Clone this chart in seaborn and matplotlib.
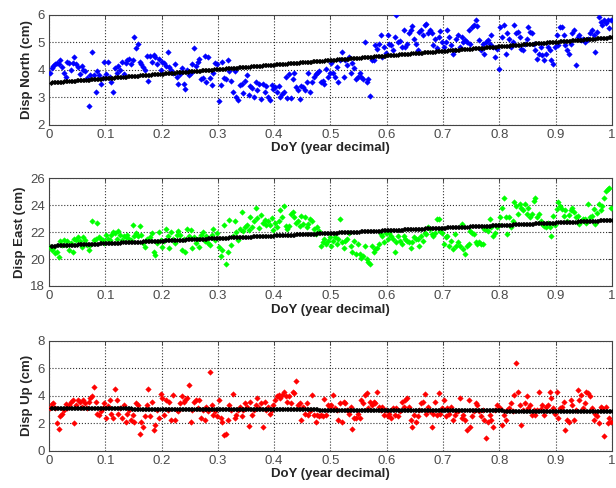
import numpy as np
import pandas as pd
import matplotlib
matplotlib.use("Agg")
import matplotlib.pyplot as plt
import seaborn as sns

# Daily displacement readings (cm), in day order through the year
disp_north = [
    3.9, 4.05, 4.15, 4.2, 4.25, 4.2, 4.35, 4.1,
    3.9, 3.75, 4.3, 4.25, 4.0, 4.25, 4.45, 4.2,
    4.1, 3.85, 4.15, 4.0, 3.95, 3.7, 2.7, 3.8,
    4.65, 3.8, 3.2, 3.95, 3.8, 3.5, 3.7, 4.3,
    3.85, 4.3, 3.75, 3.55, 3.2, 4.05, 3.9, 4.15,
    4.0, 4.3, 3.85, 4.25, 4.35, 4.4, 4.2, 4.35,
    5.2, 4.8, 4.95, 4.3, 4.2, 4.1, 4.0, 4.5,
    3.6, 4.5, 4.3, 4.55, 4.45, 4.2, 4.4, 4.0,
    4.3, 4.25, 4.15, 4.65, 4.1, 4.0, 3.9, 4.2,
    3.75, 3.5, 3.85, 4.05, 3.5, 3.3, 4.0, 3.8,
    3.9, 4.2, 4.8, 4.15, 4.3, 4.4, 3.65, 3.7,
    4.5, 3.55, 4.45, 3.7, 3.45, 3.9, 4.25, 4.2,
    2.85, 3.45, 4.3, 3.7, 3.65, 4.35, 3.95, 3.6,
    3.2, 3.95, 3.0, 2.9, 3.45, 3.5, 3.15, 3.6,
    3.8, 3.1, 3.4, 3.35, 3.0, 3.55, 3.25, 3.5,
    2.95, 3.5, 3.2, 3.4, 3.0, 2.9, 3.45, 3.3,
    3.37, 3.2, 3.43, 3.0, 3.12, 3.2, 3.73, 2.98,
    3.85, 2.98, 3.67, 3.9, 3.37, 3.25, 2.94, 3.43,
    3.37, 3.25, 3.55, 3.9, 3.2, 3.55, 3.73, 3.85,
    3.9, 3.97, 3.55, 3.6, 3.5, 4.03, 3.73, 3.9,
    4.25, 3.9, 3.73, 4.1, 3.55, 4.37, 4.65, 3.73,
    4.36, 4.17, 4.47, 3.9, 4.25, 4.05, 3.67, 3.73,
    3.9, 3.73, 3.67, 5.02, 3.55, 3.67, 3.06, 4.34,
    4.34, 4.9, 4.77, 4.95, 5.25, 4.47, 4.83, 4.6,
    5.26, 4.95, 4.89, 4.7, 5.2, 5.97, 5.0, 5.06,
    4.83, 5.45, 4.83, 4.95, 5.33, 5.45, 5.57, 5.1,
    4.95, 4.7, 5.38, 5.45, 5.26, 5.62, 5.66, 5.32,
    5.45, 5.32, 4.89, 5.1, 4.8, 5.2, 5.4, 5.0,
    4.83, 5.01, 5.46, 5.2, 4.89, 4.58, 4.7, 5.1,
    5.26, 4.83, 5.2, 5.01, 5.07, 5.0, 5.45, 4.95,
    5.56, 5.62, 5.8, 5.6, 5.07, 4.7, 4.95, 4.58,
    5.0, 5.07, 4.95, 5.26, 4.83, 4.46, 4.77, 4.04,
    5.56, 5.2, 5.62, 4.58, 5.32, 5.13, 4.83, 5.0,
    5.62, 5.32, 5.38, 5.2, 4.77, 4.7, 4.95, 5.1,
    5.56, 5.38, 5.32, 4.95, 4.7, 4.4, 4.58, 4.83,
    4.52, 4.34, 4.58, 4.83, 4.7, 4.34, 4.22, 4.83,
    5.26, 4.89, 5.56, 5.56, 5.26, 4.89, 4.7, 4.58,
    4.95, 5.32, 5.45, 4.16, 5.2, 5.26, 5.07, 5.1,
    5.0, 5.07, 5.13, 5.32, 5.45, 5.26, 4.64, 5.38,
    5.93, 5.74, 5.62, 5.8, 5.68, 5.8, 5.5, 5.8,
]

disp_east = [
    20.9, 20.7, 20.8, 20.45, 20.55, 20.15, 21.3, 21.05,
    21.4, 21.05, 21.3, 20.7, 21.2, 20.55, 21.5, 21.4,
    21.6, 21.3, 20.9, 21.6, 21.4, 21.05, 20.7, 21.05,
    22.8, 21.4, 21.5, 22.7, 21.6, 21.5, 21.4, 21.2,
    21.8, 21.5, 21.4, 21.8, 22.0, 21.9, 21.5, 22.05,
    21.8, 21.4, 21.7, 21.6, 21.8, 21.5, 21.4, 22.5,
    21.7, 21.9, 21.7, 22.45, 21.8, 21.2, 20.9, 21.5,
    21.4, 21.6, 21.9, 20.55, 20.3, 21.2, 22.0, 21.4,
    20.9, 21.3, 22.2, 21.7, 20.8, 22.0, 21.5, 21.2,
    21.8, 22.1, 21.8, 20.7, 21.5, 20.55, 22.25, 21.7,
    22.15, 20.8, 21.6, 21.2, 21.5, 20.9, 21.8, 22.0,
    21.3, 21.7, 21.2, 21.05, 21.8, 22.25, 21.4, 21.9,
    20.9, 20.2, 20.7, 22.5, 19.6, 20.55, 22.9, 21.05,
    21.7, 22.8, 22.0, 21.4, 22.25, 23.5, 22.1, 22.4,
    22.55, 22.15, 23.15, 22.4, 22.8, 23.8, 23.05, 22.3,
    23.3, 22.65, 22.9, 22.55, 22.8, 22.55, 23.05, 22.15,
    22.7, 22.35, 22.85, 23.6, 23.1, 23.95, 22.45, 22.2,
    22.45, 23.35, 23.45, 23.1, 22.7, 22.85, 22.45, 23.2,
    22.6, 23.1, 22.35, 22.6, 22.95, 22.85, 22.2, 21.85,
    22.35, 22.1, 21.0, 21.25, 21.5, 21.1, 21.35, 21.6,
    21.0, 21.35, 21.6, 21.1, 21.5, 22.95, 21.25, 20.85,
    21.35, 21.5, 21.95, 21.0, 20.5, 21.35, 20.4, 21.1,
    20.4, 20.1, 20.25, 21.0, 20.0, 19.75, 19.6, 21.0,
    20.5, 20.75, 20.85, 21.1, 21.85, 21.7, 21.25, 21.95,
    21.5, 21.95, 21.7, 21.5, 20.5, 21.25, 21.7, 21.3,
    21.1, 21.7, 21.5, 21.35, 21.25, 20.85, 21.25, 21.6,
    21.5, 21.5, 21.0, 21.7, 21.35, 21.95, 21.85, 22.35,
    22.2, 21.85, 21.7, 21.95, 22.95, 23.0, 22.1, 21.9,
    21.1, 21.6, 21.7, 21.0, 21.35, 20.75, 21.85, 21.0,
    21.25, 21.0, 22.6, 20.75, 20.4, 21.0, 21.1, 22.1,
    21.95, 21.85, 21.25, 21.1, 21.25, 21.1, 21.1, 22.2,
    22.2, 22.1, 22.95, 22.35, 21.7, 21.95, 22.35, 22.5,
    23.1, 23.8, 24.55, 23.1, 21.85, 23.1, 22.35, 22.8,
    24.2, 23.95, 23.35, 24.05, 23.8, 23.6, 24.05, 23.35,
    23.8, 23.1, 23.35, 24.3, 24.5, 23.1, 23.35, 22.85,
    22.6, 22.45, 22.35, 22.7, 22.35, 21.7, 23.2, 22.5,
    23.7, 24.2, 23.95, 23.7, 23.2, 23.6, 22.85, 23.3,
    23.6, 23.8, 23.45, 23.1, 23.2, 22.6, 22.85, 23.0,
    22.95, 22.7, 24.05, 23.1, 23.2, 23.7, 22.6, 23.4,
    24.05, 23.6, 23.95, 24.55, 25.05, 25.2, 25.3, 23.8,
]

disp_up = [
    3.1, 3.4, 3.45, 3.1, 2.0, 1.6, 2.5, 2.7,
    2.95, 3.4, 3.1, 3.35, 3.55, 3.7, 2.05, 3.35,
    3.7, 3.55, 3.15, 3.7, 3.45, 3.1, 3.55, 3.8,
    4.0, 4.6, 3.55, 2.7, 2.6, 2.85, 3.1, 3.45,
    2.35, 3.25, 3.7, 2.7, 2.35, 4.45, 3.7, 2.7,
    3.1, 2.35, 3.35, 2.1, 2.7, 2.95, 2.25, 2.6,
    2.1, 3.45, 3.35, 1.25, 2.1, 1.75, 2.5, 3.35,
    4.45, 2.5, 3.55, 1.5, 1.85, 2.95, 2.35, 4.15,
    3.8, 2.6, 3.7, 2.95, 3.55, 2.25, 4.05, 2.25,
    2.95, 2.85, 3.45, 3.95, 3.55, 3.7, 3.8, 4.8,
    2.1, 2.95, 3.55, 3.7, 3.1, 3.7, 2.35, 2.95,
    2.25, 3.2, 2.85, 5.7, 3.35, 2.6, 2.85, 2.5,
    3.7, 2.35, 2.1, 1.15, 1.25, 2.25, 3.35, 2.95,
    4.1, 2.35, 2.6, 2.95, 3.2, 2.5, 2.95, 3.45,
    3.2, 1.8, 3.55, 2.6, 2.95, 3.35, 3.8, 3.1,
    3.45, 1.75, 3.55, 2.95, 3.2, 2.7, 2.95, 3.35,
    3.7, 3.95, 4.05, 3.8, 4.05, 4.3, 3.95, 3.55,
    3.95, 3.5, 4.3, 4.2, 5.1, 3.35, 3.45, 2.25,
    3.2, 2.7, 3.45, 2.6, 2.85, 4.05, 2.6, 2.1,
    2.6, 2.5, 2.6, 2.5, 3.75, 2.6, 3.35, 3.2,
    3.35, 4.05, 3.1, 2.95, 2.25, 3.45, 2.1, 3.55,
    3.45, 2.95, 2.7, 3.2, 1.55, 2.35, 2.35, 2.7,
    2.35, 3.7, 3.45, 4.05, 4.2, 3.1, 3.55, 3.35,
    3.55, 3.45, 4.3, 3.2, 2.95, 3.2, 2.6, 2.95,
    2.5, 2.7, 2.35, 3.1, 2.6, 3.1, 2.5, 2.85,
    3.55, 3.2, 3.7, 3.8, 3.2, 2.25, 1.75, 2.6,
    2.1, 2.5, 2.95, 3.45, 3.55, 4.15, 2.7, 3.2,
    2.85, 1.75, 2.7, 3.55, 2.6, 4.2, 2.7, 3.1,
    3.7, 2.5, 3.1, 2.7, 3.2, 2.25, 2.6, 2.9,
    2.85, 3.8, 2.35, 2.6, 2.25, 1.5, 3.7, 1.75,
    2.5, 2.85, 3.45, 3.35, 2.85, 2.5, 2.95, 2.25,
    0.9, 2.1, 2.6, 2.25, 1.75, 2.95, 3.35, 3.0,
    3.1, 1.9, 2.6, 2.25, 2.95, 3.1, 3.45, 2.85,
    4.05, 6.35, 4.3, 3.35, 1.9, 2.95, 3.45, 3.95,
    3.1, 3.35, 2.6, 2.95, 2.6, 2.95, 4.3, 3.0,
    3.35, 2.6, 3.2, 3.35, 4.3, 3.8, 3.1, 2.7,
    4.3, 2.35, 3.1, 3.2, 3.55, 1.5, 2.25, 2.1,
    3.7, 3.35, 2.25, 2.95, 4.4, 3.7, 4.05, 3.1,
    3.45, 4.3, 4.2, 3.95, 3.1, 2.25, 2.7, 2.5,
    2.0, 3.2, 3.1, 1.1, 3.2, 2.0, 2.35, 2.1,
]

# Linear trend (start of year, end of year), cm
trend_north = [3.53, 5.18]
trend_east = [20.98, 22.90]
trend_up = [3.10, 2.88]

panels = [
    ("Disp North (cm)", disp_north, trend_north, "#0000ff", (2, 6), [2, 3, 4, 5, 6]),
    ("Disp East (cm)", disp_east, trend_east, "#00ff00", (18, 26), [18, 20, 22, 24, 26]),
    ("Disp Up (cm)", disp_up, trend_up, "#ff0000", (0, 8), [0, 2, 4, 6, 8]),
]
x_ticks = [0, 0.1, 0.2, 0.3, 0.4, 0.5, 0.6, 0.7, 0.8, 0.9, 1]
x_ticklabels = ["0", "0.1", "0.2", "0.3", "0.4", "0.5", "0.6", "0.7", "0.8", "0.9", "1"]

sns.set_style("white")
plt.rcParams["font.family"] = ["Liberation Sans", "DejaVu Sans"]

fig = plt.figure(figsize=(6.16, 4.88), dpi=100)
boxes = [
    [0.0795, 0.744, 0.914, 0.226],
    [0.0795, 0.414, 0.914, 0.221],
    [0.0795, 0.0764, 0.914, 0.2256],
]

days = np.arange(1, 366) / 365.0

for box, (ylabel, values, trend, color, ylim, yticks) in zip(boxes, panels):
    ax = fig.add_axes(box)
    n = len(values)
    obs = pd.DataFrame({"doy": (np.arange(n) + 0.5) / n, "disp": values})
    fit = pd.DataFrame({"doy": days,
                        "disp": trend[0] + (trend[1] - trend[0]) * days})

    sns.scatterplot(data=obs, x="doy", y="disp", ax=ax, marker="D", s=8,
                    color=color, edgecolor=color, linewidth=0.3, zorder=3)
    sns.scatterplot(data=fit, x="doy", y="disp", ax=ax, marker="D", s=5,
                    color="black", edgecolor="black", linewidth=0.3, zorder=4)

    ax.set_xlim(0, 1)
    ax.set_ylim(*ylim)
    ax.set_xticks(x_ticks)
    ax.set_xticklabels(x_ticklabels)
    ax.set_yticks(yticks)
    ax.grid(True, linestyle=":", color="#333333", linewidth=0.8)
    ax.set_axisbelow(True)
    ax.tick_params(direction="in", length=3, width=0.6, top=True, right=True,
                   labelsize=9.5, labelcolor="#4a4a4a", color="#333333", pad=3)
    for sp in ax.spines.values():
        sp.set_color("#444444")
        sp.set_linewidth(0.8)
    ax.set_xlabel("DoY (year decimal)", fontsize=9.5, fontweight="bold", labelpad=1)
    ax.set_ylabel(ylabel, fontsize=9.5, fontweight="bold", labelpad=3)

fig.savefig("out.png", dpi=100)
